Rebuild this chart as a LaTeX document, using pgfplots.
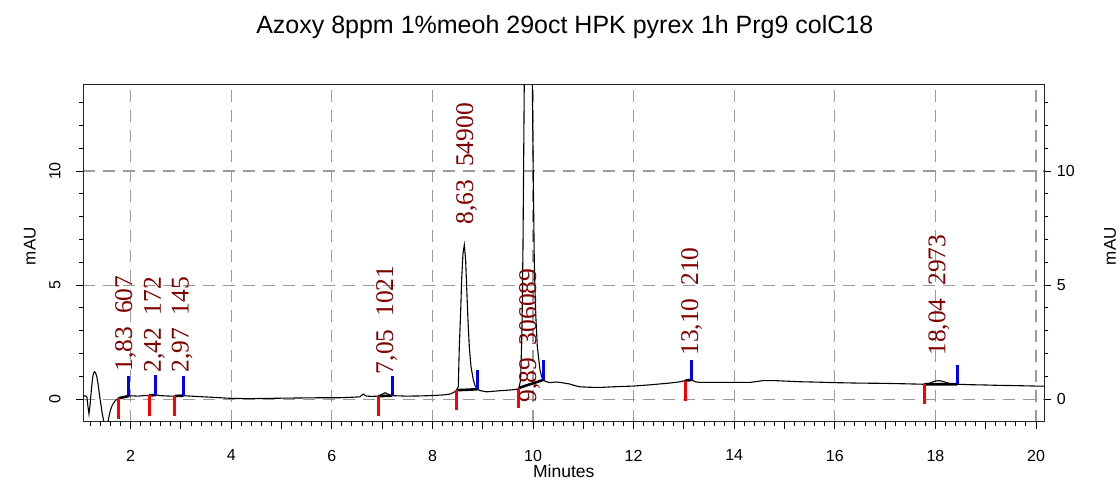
\documentclass[border=0pt]{standalone}
\usepackage{fontspec}
\setmainfont{Liberation Sans}
\newfontfamily\serifnum{Liberation Serif}
\usepackage{pgfplots}
\pgfplotsset{compat=1.18}
\definecolor{lab}{RGB}{128,0,0}
\definecolor{gridc}{RGB}{155,155,155}
\begin{document}
\begin{tikzpicture}[x=1pt,y=1pt]
\begin{axis}[
  at={(83.3pt,58.3pt)}, anchor=south west,
  scale only axis, width=961pt, height=337pt,
  xmin=1.058, xmax=20.165, ymin=-0.98, ymax=13.78,
  /pgf/number format/assume math mode=true,
  xtick={2,4,...,20},
  minor xtick={1.2,1.4,...,20.0},
  extra x ticks={3,5,...,19}, extra x tick labels={},
  extra x tick style={grid=none},
  ytick={0,5,10},
  minor ytick={-1,0,...,13},
  xtick pos=bottom, ytick pos=both, yticklabel pos=left,
  tick align=outside,
  major tick length=7pt, minor tick length=4pt,
  tick style={black, line width=1pt},
  axis line style={black!85, line width=1pt},
  grid=major,
  major grid style={gridc, dash pattern=on 12pt off 8pt, line width=1.1pt},
  tick label style={font=\fontsize{16}{16}\selectfont},
  xticklabel style={anchor=north, inner sep=0pt},
  xticklabel shift=21pt,
  yticklabel style={rotate=90, anchor=south, inner sep=0pt},
  yticklabel shift=15.6pt,
  title={Azoxy 8ppm 1\%meoh 29oct HPK pyrex 1h Prg9 colC18},
  every axis title/.style={at={(axis description cs:0.501,1.1525)}, anchor=base, inner sep=0pt, font=\fontsize{25}{25}\selectfont},
  xlabel={Minutes},
  every axis x label/.style={at={(axis description cs:0.5,-0.166)}, anchor=base, inner sep=0pt, font=\fontsize{17.5}{17.5}\selectfont},
  ylabel={mAU},
  every axis y label/.style={at={(axis description cs:-0.0491,0.521)}, rotate=90, anchor=south, inner sep=0pt, font=\fontsize{17}{17}\selectfont},
  unbounded coords=jump,
]
% chromatogram trace
\addplot[black, line width=1.1pt] coordinates {
(1.058,0.14) (1.10,0.15) (1.13,0.10) (1.15,-0.30) (1.171,-0.64) (1.19,-0.30)
(1.224,0.55) (1.25,1.05) (1.277,1.21) (1.30,1.17) (1.324,1.02) (1.35,0.70)
(1.376,0.26) (1.40,-0.12) (1.424,-0.47) (1.45,-0.80) (1.476,-1.10) (1.50,-1.35)
(1.52,-1.40) (1.54,-1.15) (1.56,-0.85) (1.59,-0.54) (1.62,-0.33) (1.654,-0.18)
(1.70,-0.04) (1.754,0.04) (1.80,0.09) (1.853,0.11) (1.90,0.13) (1.96,0.145)
(2.05,0.15) (2.15,0.14) (2.25,0.16) (2.37,0.17) (2.43,0.20) (2.50,0.19)
(2.60,0.16) (2.70,0.15) (2.80,0.14) (2.88,0.145) (2.95,0.17) (3.05,0.16)
(3.20,0.14) (3.44,0.11) (3.70,0.08) (4.01,0.04) (4.37,0.03) (4.70,0.04)
(5.00,0.05) (5.40,0.06) (5.80,0.07) (6.16,0.07) (6.40,0.09) (6.56,0.11)
(6.62,0.23) (6.69,0.14) (6.80,0.13) (6.92,0.14) (6.98,0.20) (7.06,0.29)
(7.12,0.22) (7.20,0.16) (7.49,0.14) (7.80,0.15) (8.02,0.17) (8.20,0.19)
(8.35,0.23) (8.42,0.30) (8.481,0.40)
(8.514,0.55) (8.534,2.30) (8.560,3.77) (8.580,5.23) (8.607,6.39) (8.633,6.76)
(8.660,6.10) (8.680,4.93) (8.706,3.47) (8.733,2.30) (8.766,1.43) (8.813,0.85)
(8.85,0.58) (8.891,0.44) (8.95,0.38) (9.08,0.33) (9.20,0.35) (9.35,0.38)
(9.50,0.40) (9.60,0.42) (9.675,0.44) (9.72,0.50)
(9.753,0.85) (9.780,3.04) (9.800,6.69) (9.813,10.34) (9.826,14.0) (9.845,20)
(9.87,30) (9.90,36) (9.93,32) (9.955,22) (9.985,14.0) (10.005,9.6)
(10.025,5.96) (10.052,3.77) (10.085,2.30) (10.138,1.28) (10.17,1.00) (10.204,0.85)
(10.25,0.78) (10.336,0.73) (10.45,0.76) (10.57,0.73) (10.65,0.70) (10.73,0.67)
(10.83,0.60) (10.93,0.55) (11.10,0.53) (11.33,0.52) (11.60,0.55) (11.99,0.58)
(12.30,0.63) (12.66,0.70) (12.90,0.76) (13.03,0.82) (13.08,0.86) (13.12,0.87)
(13.15,0.85) (13.22,0.77) (13.32,0.74) (13.60,0.74) (13.98,0.74) (14.31,0.74)
(14.58,0.82) (14.80,0.82) (15.00,0.80) (15.31,0.77) (15.70,0.75) (16.02,0.73)
(16.50,0.71) (16.96,0.70) (17.40,0.68) (17.78,0.66) (17.85,0.68) (17.92,0.74)
(18.00,0.80) (18.06,0.82) (18.14,0.79) (18.22,0.73) (18.30,0.68) (18.43,0.66)
(18.70,0.64) (18.95,0.63) (19.30,0.61) (19.60,0.60) (20.01,0.58) (20.165,0.58)
};
% integration baselines
\addplot[black, line width=2.6pt] coordinates {
(1.754,0.04) (1.96,0.145) (1.96,nan)
(2.37,0.17) (2.50,0.19) (2.50,nan)
(2.88,0.145) (3.05,0.16) (3.05,nan)
(6.92,0.14) (7.20,0.16) (7.20,nan)
(8.481,0.40) (8.891,0.44) (8.891,nan)
(9.72,0.50) (10.204,0.85) (10.204,nan)
(13.03,0.82) (13.15,0.85) (13.15,nan)
(17.78,0.66) (18.43,0.66)
};
% peak start marks
\addplot[red, line width=3pt] coordinates {
(1.754,0.04) (1.754,-0.84) (1.754,nan)
(2.37,0.17) (2.37,-0.71) (2.37,nan)
(2.88,0.145) (2.88,-0.735) (2.88,nan)
(6.92,0.14) (6.92,-0.74) (6.92,nan)
(8.481,0.40) (8.481,-0.48) (8.481,nan)
(9.72,0.50) (9.72,-0.38) (9.72,nan)
(13.03,0.82) (13.03,-0.06) (13.03,nan)
(17.78,0.66) (17.78,-0.22)
};
% peak end marks
\addplot[blue, line width=3pt] coordinates {
(1.96,0.145) (1.96,1.005) (1.96,nan)
(2.50,0.19) (2.50,1.05) (2.50,nan)
(3.05,0.16) (3.05,1.02) (3.05,nan)
(7.20,0.16) (7.20,1.02) (7.20,nan)
(8.891,0.44) (8.891,1.30) (8.891,nan)
(10.204,0.85) (10.204,1.71) (10.204,nan)
(13.15,0.85) (13.15,1.71) (13.15,nan)
(18.43,0.66) (18.43,1.52)
};
\tikzset{pk/.style={text=lab, rotate=90, anchor=base west, inner sep=0pt, font=\serifnum\fontsize{25.5}{25.5}\selectfont}}
\node[pk] at (axis cs:2.03,1.22) {1,83\ \ 607};
\node[pk] at (axis cs:2.60,1.16) {2,42\ \ 172};
\node[pk] at (axis cs:3.15,1.16) {2,97\ \ 145};
\node[pk] at (axis cs:7.22,1.10) {7,05\ \ 1021};
\node[pk] at (axis cs:8.81,7.66) {8,63\ \ 54900};
\node[pk] at (axis cs:10.06,-0.15) {9,89\ \ 306089};
\node[pk] at (axis cs:13.28,1.90) {13,10\ \ 210};
\node[pk] at (axis cs:18.20,1.90) {18,04\ \ 2973};
\end{axis}
\begin{axis}[
  at={(83.3pt,58.3pt)}, anchor=south west,
  scale only axis, width=961pt, height=337pt,
  xmin=1.058, xmax=20.165, ymin=-0.98, ymax=13.78,
  /pgf/number format/assume math mode=true,
  xtick=\empty, ytick={0,5,10},
  ytick pos=right, yticklabel pos=right,
  tick style={draw=none}, major tick length=0pt,
  axis line style={draw=none},
  tick label style={font=\fontsize{16}{16}\selectfont},
  yticklabel style={anchor=west, inner sep=0pt},
  yticklabel shift=12.4pt,
  ylabel={mAU},
  every axis y label/.style={at={(axis description cs:1.062,0.521)}, rotate=90, anchor=north, inner sep=0pt, font=\fontsize{17}{17}\selectfont},
]
\end{axis}
\pgfresetboundingbox
\useasboundingbox (0,0) rectangle (1119,480);
\end{tikzpicture}
\end{document}
